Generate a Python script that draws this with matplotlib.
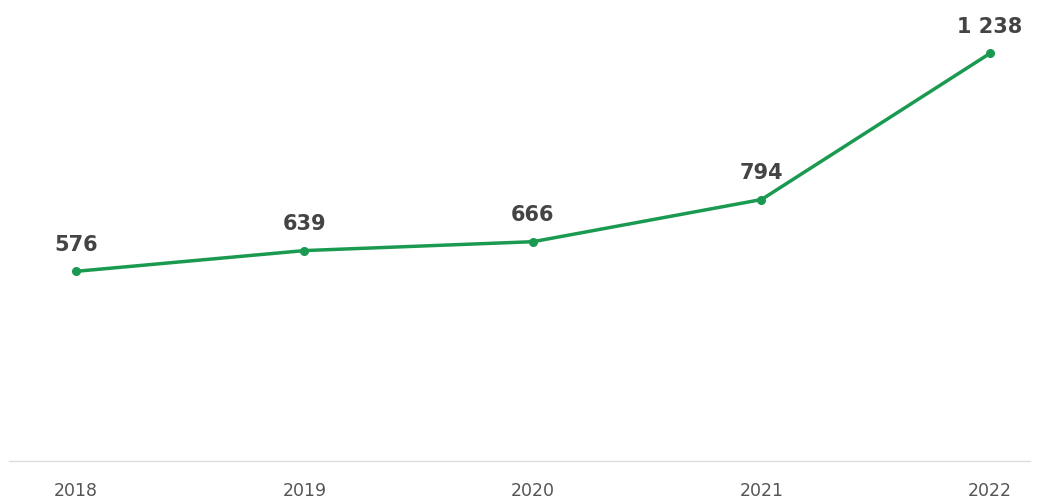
import matplotlib
matplotlib.use("Agg")
import matplotlib.pyplot as plt

years = ["2018", "2019", "2020", "2021", "2022"]
values = [576, 639, 666, 794, 1238]
labels = ["576", "639", "666", "794", "1 238"]

fig = plt.figure(figsize=(10.43, 5), dpi=100)
ax = fig.add_axes([9 / 1043, 39 / 500, 1021 / 1043, 461 / 500])

x = list(range(len(years)))
ax.plot(x, values, color="#1a9a50", linewidth=2.5, marker="o", markersize=5.5, solid_capstyle="round")

for xi, v, lab in zip(x, values, labels):
    ax.annotate(lab, (xi, v), xytext=(0, 12), textcoords="offset points",
                ha="center", va="bottom", fontsize=15, fontweight="bold", color="#444444")

ax.set_xlim(-0.293, 4.175)
ax.set_ylim(0, 1400)
ax.set_xticks(x)
ax.set_xticklabels(years, fontsize=12.5, color="#555555")
ax.set_yticks([])
ax.tick_params(axis="x", length=0, pad=15)
for s in ["top", "left", "right"]:
    ax.spines[s].set_visible(False)
ax.spines["bottom"].set_color("#dddddd")
ax.spines["bottom"].set_linewidth(1)

fig.savefig("out.png", dpi=100)
